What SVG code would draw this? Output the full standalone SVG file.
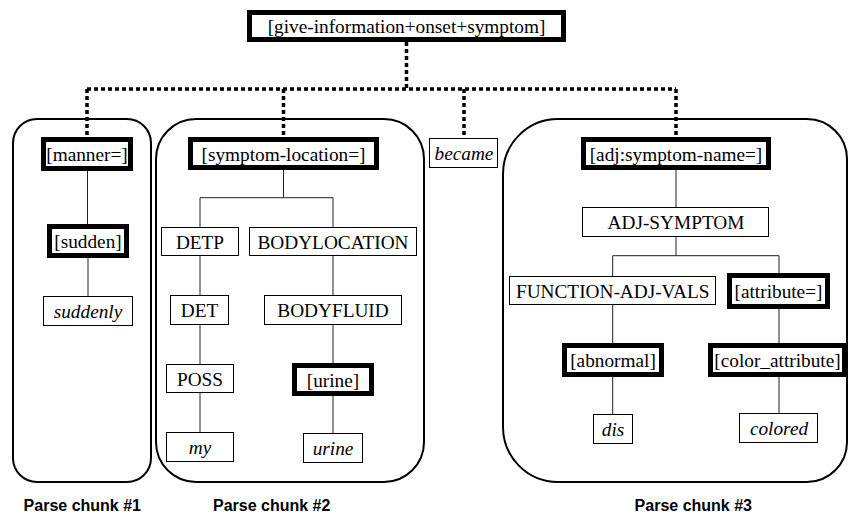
<svg xmlns="http://www.w3.org/2000/svg" width="848" height="515" viewBox="0 0 848 515">
<style>
.chunk{fill:none;stroke:#000;stroke-width:2}
.thin{fill:#fff;stroke:#000;stroke-width:1}
.thick{fill:#fff;stroke:#000;stroke-width:5}
.t{font-family:"Liberation Serif","Times New Roman",serif;font-size:19.3px;fill:#000;text-anchor:middle}
.i{font-style:italic}
.lbl{font-family:"Liberation Sans",Arial,sans-serif;font-weight:bold;font-size:16px;fill:#000;text-anchor:middle}
.ln{fill:none;stroke:#222;stroke-width:1}
.dot{fill:none;stroke:#000;stroke-width:3.5;stroke-dasharray:4 3}
</style>
<rect width="848" height="515" fill="#fff"/>
<g id="chunks">
<rect id="chunk1" class="chunk" x="13" y="119" width="138" height="363" rx="24"/>
<rect id="chunk2" class="chunk" x="156" y="119" width="268" height="363" rx="40"/>
<path id="chunk3" class="chunk" d="M558 119H807A40 40 0 0 1 847 159V442A40 40 0 0 1 807 482H558A55 55 0 0 1 503 427V174A55 55 0 0 1 558 119Z"/>
</g>
<g id="connectors">
<path class="dot" d="M406.5 42V89M87 89H676M87 89V137M283.5 89V137M464 89V138M676 89V137"/>
<path class="ln" d="M87.5 171V224M88 258V296M283.5 170V197.7M200 197.7H333M200 197.7V227M333 197.7V227M200 256V295M200 325V364M200 393V432M333 256V295M333 325V363M333 396V433M676 170V207M676 237V255.7M612.7 255.7H779M612.7 255.7V276M779 255.7V273M612.7 305V343M612.7 377V414M779 309V343M779 377V413"/>
</g>
<g id="n-top"><rect class="thick" x="249.5" y="12.5" width="314" height="27"/><text class="t" x="406.5" y="33">[give-information+onset+symptom]</text></g>
<g id="n-manner"><rect class="thick" x="43.5" y="139.5" width="87" height="29"/><text class="t" x="87" y="161">[manner=]</text></g>
<g id="n-sudden"><rect class="thick" x="49.5" y="226.5" width="77" height="29"/><text class="t" x="88" y="248">[sudden]</text></g>
<g id="n-suddenly"><rect class="thin" x="43.5" y="296.5" width="89" height="29"/><text class="t i" x="88" y="318">suddenly</text></g>
<g id="n-symloc"><rect class="thick" x="190.5" y="139.5" width="186" height="28"/><text class="t" x="283.5" y="160.5">[symptom-location=]</text></g>
<g id="n-detp"><rect class="thin" x="161.5" y="227.5" width="77" height="28"/><text class="t" x="200" y="248.5">DETP</text></g>
<g id="n-bodylocation"><rect class="thin" x="249.5" y="227.5" width="167" height="28"/><text class="t" x="333" y="248.5">BODYLOCATION</text></g>
<g id="n-det"><rect class="thin" x="170.5" y="295.5" width="58" height="29"/><text class="t" x="199.5" y="317">DET</text></g>
<g id="n-bodyfluid"><rect class="thin" x="264.5" y="295.5" width="137" height="29"/><text class="t" x="333" y="317">BODYFLUID</text></g>
<g id="n-poss"><rect class="thin" x="166.5" y="364.5" width="67" height="28"/><text class="t" x="200" y="385.5">POSS</text></g>
<g id="n-urine-sem"><rect class="thick" x="294.5" y="365.5" width="77" height="28"/><text class="t" x="333" y="386.5">[urine]</text></g>
<g id="n-my"><rect class="thin" x="166.5" y="432.5" width="67" height="29"/><text class="t i" x="200" y="454">my</text></g>
<g id="n-urine"><rect class="thin" x="303.5" y="433.5" width="59" height="29"/><text class="t i" x="333" y="455">urine</text></g>
<g id="n-became"><rect class="thin" x="429.5" y="138.5" width="68" height="29"/><text class="t i" x="464" y="160">became</text></g>
<g id="n-adj"><rect class="thick" x="583.5" y="139.5" width="185" height="28"/><text class="t" x="676" y="160.5">[adj:symptom-name=]</text></g>
<g id="n-adjsymptom"><rect class="thin" x="582.5" y="207.5" width="186" height="29"/><text class="t" x="676" y="229">ADJ-SYMPTOM</text></g>
<g id="n-function"><rect class="thin" x="509.5" y="276.5" width="206" height="28"/><text class="t" x="612.7" y="297.5">FUNCTION-ADJ-VALS</text></g>
<g id="n-attribute"><rect class="thick" x="729.5" y="275.5" width="98" height="31"/><text class="t" x="778.5" y="298">[attribute=]</text></g>
<g id="n-abnormal"><rect class="thick" x="564.5" y="345.5" width="97" height="29"/><text class="t" x="613" y="367">[abnormal]</text></g>
<g id="n-color"><rect class="thick" x="710.5" y="345.5" width="134" height="29"/><text class="t" x="777.5" y="367">[color_attribute]</text></g>
<g id="n-dis"><rect class="thin" x="593.5" y="414.5" width="39" height="29"/><text class="t i" x="613" y="436">dis</text></g>
<g id="n-colored"><rect class="thin" x="739.5" y="413.5" width="78" height="29"/><text class="t i" x="779" y="435">colored</text></g>
<g id="labels">
<text class="lbl" x="82.3" y="511">Parse chunk #1</text>
<text class="lbl" x="271.7" y="511">Parse chunk #2</text>
<text class="lbl" x="693.3" y="511">Parse chunk #3</text>
</g>
</svg>
